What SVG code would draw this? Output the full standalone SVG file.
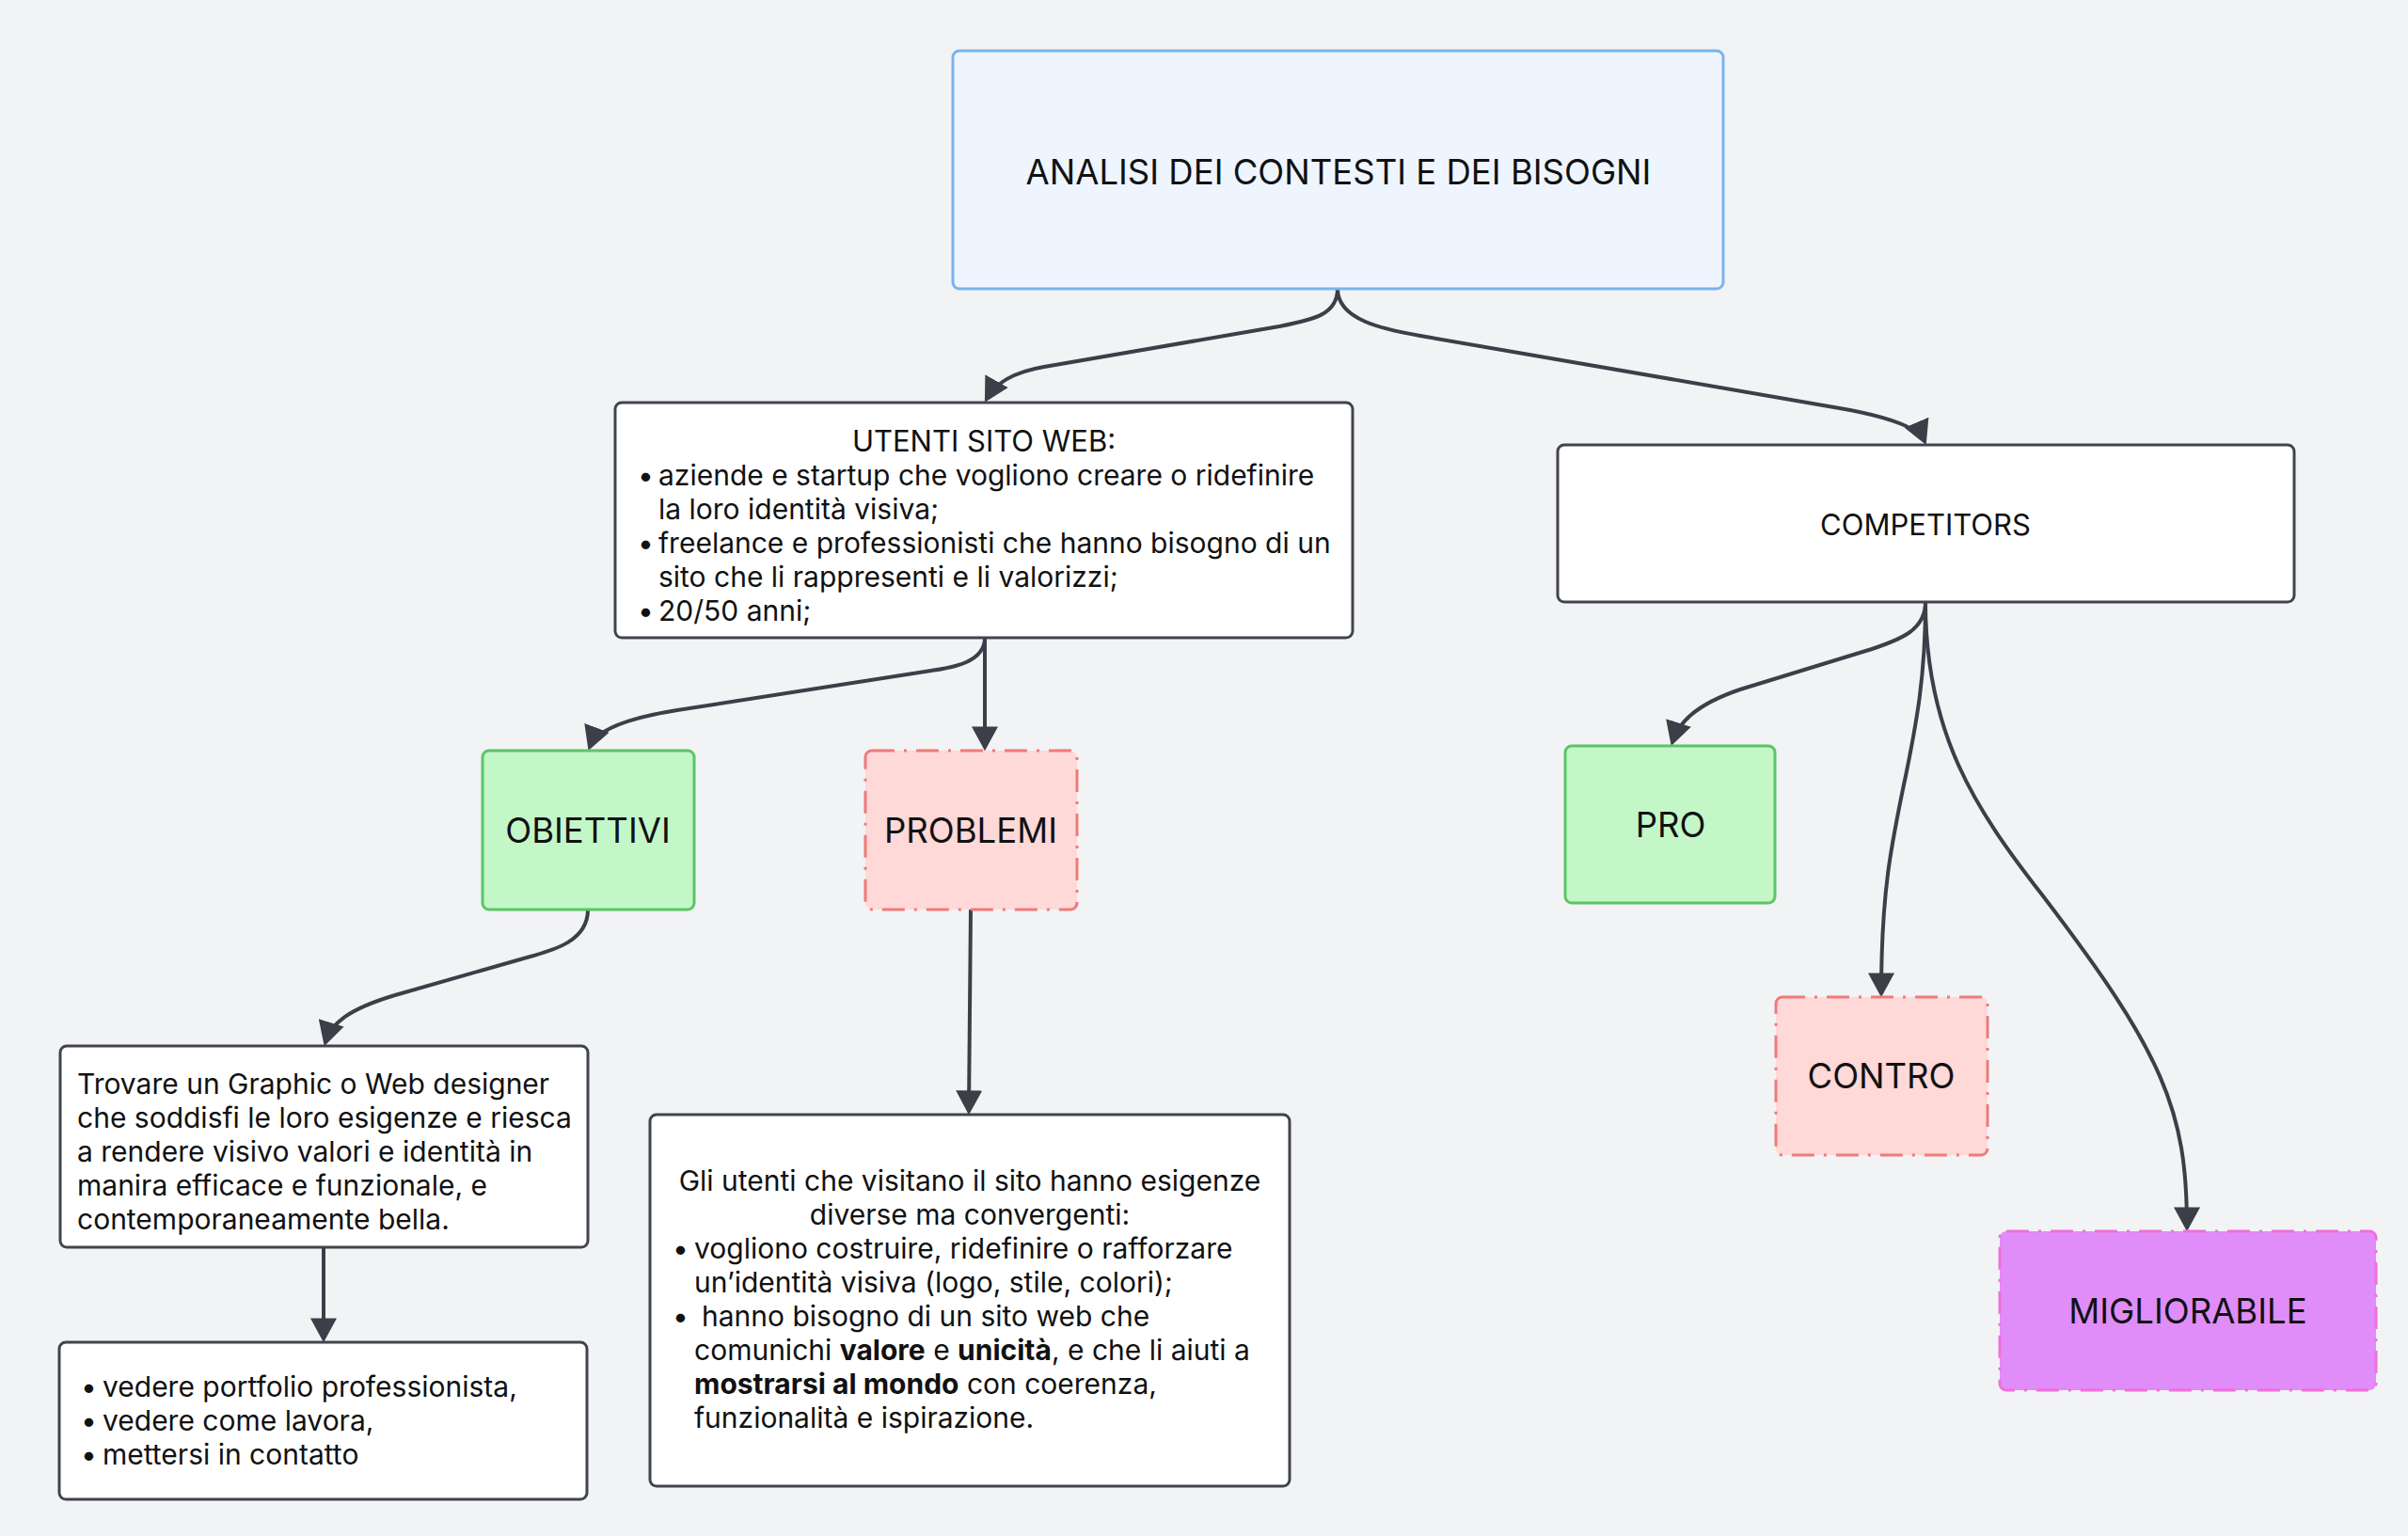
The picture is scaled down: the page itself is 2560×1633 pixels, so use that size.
<svg xmlns="http://www.w3.org/2000/svg" width="2560" height="1633" viewBox="0 0 2560 1633">
<defs>
<style>
.t{font-family:Inter,"Noto Sans","Liberation Sans",sans-serif;font-size:30px;fill:#111;}
.L{font-size:36.5px;}
.M{font-size:31px;}
.c{text-anchor:middle;}
.b{font-weight:bold;}
.plain{fill:#ffffff;stroke:#40444c;stroke-width:3;}
.green{fill:#c3f7c8;stroke:#5cc466;stroke-width:3;}
.red{fill:#ffd8d8;stroke:#f07a7a;stroke-width:3;stroke-dasharray:24 10 3 10;}
.violet{fill:#e08df9;stroke:#f070d8;stroke-width:3;stroke-dasharray:24 10 3 10;}
.blue{fill:#eef5fe;stroke:#7ab4ee;stroke-width:3;}
.edge{fill:none;stroke:#3b3f47;stroke-width:4;marker-end:url(#arr);}
</style>
<marker id="arr" markerUnits="userSpaceOnUse" markerWidth="26" markerHeight="28" viewBox="0 0 24 26" refX="20" refY="13" orient="auto">
<path d="M0,0 L24,13 L0,26 Z" fill="#3b3f47"/>
</marker>
</defs>
<rect width="2560" height="1633" fill="#f2f3f5"/>

<g id="connectors">
<path class="edge" d="M1422,307 C1422,335 1395,340 1360,347 L1110,390 C1075,396 1058,408 1049,424"/>
<path class="edge" d="M1422,307 C1422,340 1470,350 1510,357 L1950,433 C2010,443 2040,455 2046,469"/>
<path class="edge" d="M1047,678 C1047,705 1010,710 990,713 L720,755 C670,763 634,775 627,794"/>
<path class="edge" d="M1047,678 L1047,794"/>
<path class="edge" d="M625,967 C625,1000 590,1010 560,1018 L420,1058 C370,1073 352,1088 346,1108"/>
<path class="edge" d="M1032,967 L1030,1181"/>
<path class="edge" d="M344,1326 L344,1423"/>
<path class="edge" d="M2047,640 C2047,670 2020,680 1990,690 L1850,733 C1800,750 1784,770 1778,789"/>
<path class="edge" d="M2047,640 C2047,720 2037,770 2027,820 C2010,900 2000,950 2000,1056"/>
<path class="edge" d="M2047,640 C2047,780 2100,860 2170,950 C2300,1120 2325,1180 2325,1305"/>
</g>

<g id="analisi">
<rect class="blue" x="1013" y="54" width="819" height="253" rx="7"/>
<text class="t L c" x="1423" y="196">ANALISI DEI CONTESTI E DEI BISOGNI</text>
</g>

<g id="utenti">
<rect class="plain" x="654" y="428" width="784" height="250" rx="7"/>
<text class="t M c" x="1046" y="480">UTENTI SITO WEB:</text>
<text class="t" x="678" y="516">•</text><text class="t" x="700" y="516">aziende e startup che vogliono creare o ridefinire</text>
<text class="t" x="700" y="552">la loro identità visiva;</text>
<text class="t" x="678" y="588">•</text><text class="t" x="700" y="588">freelance e professionisti che hanno bisogno di un</text>
<text class="t" x="700" y="624">sito che li rappresenti e li valorizzi;</text>
<text class="t" x="678" y="660">•</text><text class="t" x="700" y="660">20/50 anni;</text>
</g>

<g id="competitors">
<rect class="plain" x="1656" y="473" width="783" height="167" rx="7"/>
<text class="t M c" x="2047" y="569">COMPETITORS</text>
</g>

<g id="obiettivi">
<rect class="green" x="513" y="798" width="225" height="169" rx="7"/>
<text class="t L c" x="625" y="896">OBIETTIVI</text>
</g>

<g id="problemi">
<rect class="red" x="920" y="798" width="225" height="169" rx="7"/>
<text class="t L c" x="1032" y="896">PROBLEMI</text>
</g>

<g id="trovare">
<rect class="plain" x="64" y="1112" width="561" height="214" rx="7"/>
<text class="t" x="82" y="1163">Trovare un Graphic o Web designer</text>
<text class="t" x="82" y="1199">che soddisfi le loro esigenze e riesca</text>
<text class="t" x="82" y="1235">a rendere visivo valori e identità in</text>
<text class="t" x="82" y="1271">manira efficace e funzionale, e</text>
<text class="t" x="82" y="1307">contemporaneamente bella.</text>
</g>

<g id="vedere">
<rect class="plain" x="63" y="1427" width="561" height="167" rx="7"/>
<text class="t" x="86" y="1485">•</text><text class="t" x="109" y="1485">vedere portfolio professionista,</text>
<text class="t" x="86" y="1521">•</text><text class="t" x="109" y="1521">vedere come lavora,</text>
<text class="t" x="86" y="1557">•</text><text class="t" x="109" y="1557">mettersi in contatto</text>
</g>

<g id="gli-utenti">
<rect class="plain" x="691" y="1185" width="680" height="395" rx="7"/>
<text class="t c" x="1031" y="1266">Gli utenti che visitano il sito hanno esigenze</text>
<text class="t c" x="1031" y="1302">diverse ma convergenti:</text>
<text class="t" x="715" y="1338">•</text><text class="t" x="738" y="1338">vogliono costruire, ridefinire o rafforzare</text>
<text class="t" x="738" y="1374">un’identità visiva (logo, stile, colori);</text>
<text class="t" x="715" y="1410">•</text><text class="t" x="746" y="1410">hanno bisogno di un sito web che</text>
<text class="t" x="738" y="1446">comunichi <tspan class="b">valore</tspan> e <tspan class="b">unicità</tspan>, e che li aiuti a</text>
<text class="t" x="738" y="1482"><tspan class="b">mostrarsi al mondo</tspan> con coerenza,</text>
<text class="t" x="738" y="1518">funzionalità e ispirazione.</text>
</g>

<g id="pro">
<rect class="green" x="1664" y="793" width="223" height="167" rx="7"/>
<text class="t L c" x="1776" y="890">PRO</text>
</g>

<g id="contro">
<rect class="red" x="1888" y="1060" width="225" height="168" rx="7"/>
<text class="t L c" x="2000" y="1157">CONTRO</text>
</g>

<g id="migliorabile">
<rect class="violet" x="2126" y="1309" width="400" height="169" rx="7"/>
<text class="t L c" x="2326" y="1407">MIGLIORABILE</text>
</g>
</svg>
